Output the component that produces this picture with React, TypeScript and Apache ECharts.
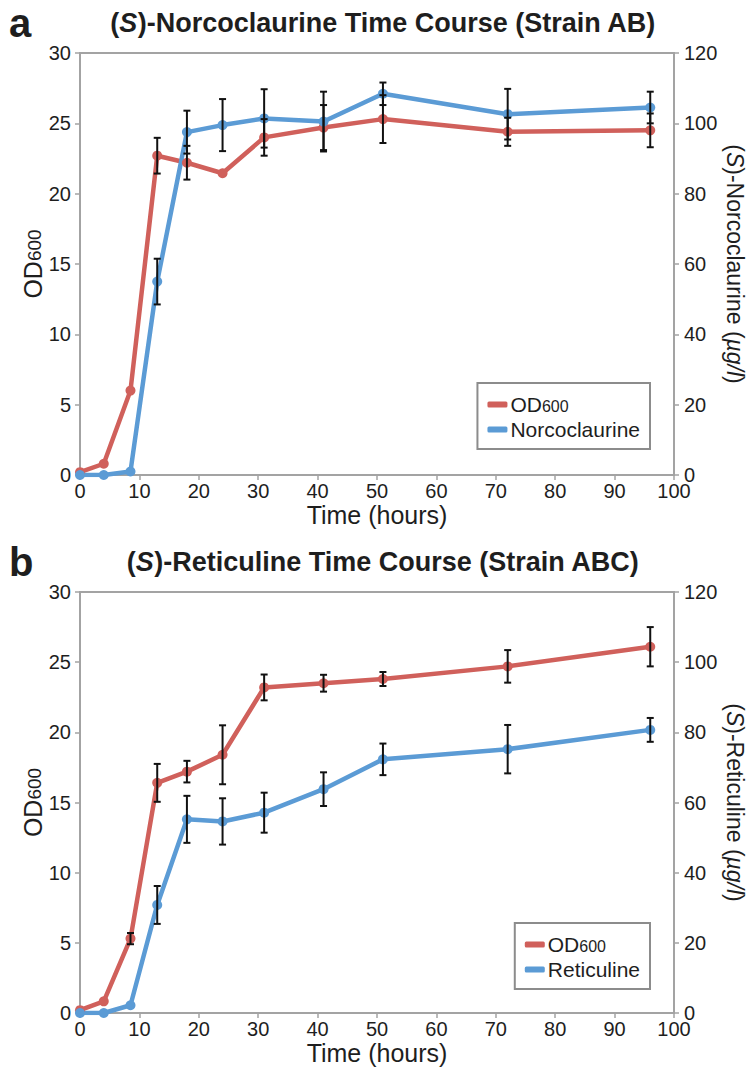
import React, { useEffect, useRef } from "react";
import * as echarts from "echarts";

const hours = [0, 4, 8.5, 13, 18, 24, 31, 41, 51, 72, 96];

const odA = [0.2, 0.8, 6.0, 22.7, 22.2, 21.45, 24.0, 24.7, 25.3, 24.4, 24.5];
const odAErr = [0, 0, 0, 1.27, 1.2, 0, 1.3, 1.6, 1.7, 1.0, 1.2];
const norco = [0, 0, 1, 55.0, 97.5, 99.5, 101.4, 100.5, 108.4, 102.6, 104.5];
const norcoErr = [0, 0, 0, 6.5, 6.1, 7.4, 8.3, 8.5, 3.2, 7.2, 4.5];

const odB = [0.2, 0.83, 5.3, 16.4, 17.2, 18.4, 23.2, 23.5, 23.8, 24.7, 26.1];
const odBErr = [0, 0, 0.4, 1.35, 0.77, 2.1, 0.92, 0.6, 0.5, 1.16, 1.4];
const retic = [0, 0, 2.2, 30.8, 55.2, 54.6, 57.1, 63.8, 72.3, 75.2, 80.7];
const reticErr = [0, 0, 0, 5.4, 6.7, 6.6, 5.7, 4.8, 4.5, 6.9, 3.4];

const RED = "#d0605b";
const BLUE = "#5b9bd5";
const AXIS = "#a3a3a3";
const TXT = "#1e1e1e";
const FONT = "'Liberation Sans', Arial, Helvetica, sans-serif";

function pairs(vals: number[]) {
  return hours.map((h, i) => [h, vals[i]]);
}
function errs(vals: number[], e: number[]) {
  return hours
    .map((h, i) => [h, vals[i] - e[i], vals[i] + e[i], e[i]])
    .filter((d) => d[3] > 0);
}

const renderErr = (params: any, api: any) => {
  const x = api.value(0);
  const lo = api.coord([x, api.value(1)]);
  const hi = api.coord([x, api.value(2)]);
  const cap = 3.5;
  const st = { stroke: "#111", lineWidth: 2 };
  return {
    type: "group",
    children: [
      { type: "line", shape: { x1: lo[0], y1: lo[1], x2: hi[0], y2: hi[1] }, style: st },
      { type: "line", shape: { x1: lo[0] - cap, y1: lo[1], x2: lo[0] + cap, y2: lo[1] }, style: st },
      { type: "line", shape: { x1: hi[0] - cap, y1: hi[1], x2: hi[0] + cap, y2: hi[1] }, style: st },
    ],
  };
};

export default function App() {
  const ref = useRef<HTMLDivElement>(null);
  useEffect(() => {
    const chart = echarts.init(ref.current!, null, { renderer: "svg" });
    const tickLabel = { color: TXT, fontSize: 20, fontFamily: FONT };
    const axisLine = { show: true, lineStyle: { color: AXIS, width: 2 } };
    const axisTick = { show: true, inside: false, length: 5, lineStyle: { color: AXIS, width: 1.5 } };
    const nameStyle = {
      color: TXT,
      fontSize: 23,
      fontFamily: FONT,
      rich: {
        s: { fontSize: 19, fontFamily: FONT, color: TXT, padding: [3, 0, 0, 0] },
        i: { fontStyle: "italic", fontSize: 23, fontFamily: FONT, color: TXT },
        n: { fontSize: 23, fontFamily: FONT, color: TXT },
        o: { fontSize: 25, fontFamily: FONT, color: TXT },
      },
    };
    const xAxisBase = (gi: number) => ({
      type: "value",
      gridIndex: gi,
      min: 0,
      max: 100,
      interval: 10,
      splitLine: { show: false },
      axisLine,
      axisTick,
      axisLabel: { ...tickLabel, margin: 6 },
      name: "Time (hours)",
      nameLocation: "middle",
      nameGap: 27,
      nameMoveOverlap: false,
      nameTextStyle: { color: TXT, fontSize: 25, fontFamily: FONT },
    });
    const leftAxis = (gi: number) => ({
      type: "value",
      gridIndex: gi,
      position: "left",
      min: 0,
      max: 30,
      interval: 5,
      splitLine: { show: false },
      axisLine,
      axisTick,
      axisLabel: { ...tickLabel, margin: 9 },
      name: "{o|OD}{s|600}",
      nameLocation: "middle",
      nameGap: 35,
      nameMoveOverlap: false,
      nameRotate: 90,
      nameTextStyle: nameStyle,
    });
    const rightAxis = (gi: number, label: string) => ({
      type: "value",
      gridIndex: gi,
      position: "right",
      min: 0,
      max: 120,
      interval: 20,
      splitLine: { show: false },
      axisLine,
      axisTick,
      axisLabel: { ...tickLabel, margin: 10 },
      name: "{n|(}{i|S}{n|)-" + label + " (}{i|µg/l}{n|)}",
      nameLocation: "middle",
      nameGap: 49,
      nameMoveOverlap: false,
      nameRotate: -90,
      nameTextStyle: nameStyle,
    });
    const lineSeries = (name: string, data: number[], color: string, xi: number, yi: number) => ({
      type: "line",
      name,
      xAxisIndex: xi,
      yAxisIndex: yi,
      data: pairs(data),
      symbol: "circle",
      symbolSize: 10,
      lineStyle: { color, width: 4.5 },
      itemStyle: { color },
      z: 3,
    });
    const errSeries = (vals: number[], e: number[], xi: number, yi: number) => ({
      type: "custom",
      xAxisIndex: xi,
      yAxisIndex: yi,
      data: errs(vals, e),
      encode: { x: 0, y: [1, 2] },
      renderItem: renderErr,
      z: 5,
      silent: true,
    });
    const legendBase = (data: string[], top: number) => ({
      data,
      orient: "vertical",
      right: 98,
      top,
      borderColor: "#8c8c8c",
      borderWidth: 2,
      backgroundColor: "#fff",
      padding: [11, 10, 9, 10],
      itemGap: 4,
      itemWidth: 20,
      itemHeight: 6,
      icon: "roundRect",
      textStyle: {
        color: TXT,
        fontSize: 21,
        fontFamily: FONT,
        padding: [0, 0, 0, -2],
        rich: {
          n: { fontSize: 21, fontFamily: FONT, color: TXT },
          s: { fontSize: 16, fontFamily: FONT, color: TXT, padding: [3, 0, 0, 0] },
        },
      },
      formatter: (name: string) => (name === "OD600" ? "{n|OD}{s|600}" : "{n|" + name + "}"),
    });
    const titleBase = (text: string, top: number) => ({
      text,
      left: 383,
      textAlign: "center",
      top,
      padding: 0,
      textStyle: {
        color: TXT,
        fontSize: 27,
        fontWeight: "bold",
        fontFamily: FONT,
        rich: {
          b: { fontSize: 27, fontWeight: "bold", fontFamily: FONT, color: TXT },
          i: { fontSize: 27, fontWeight: "bold", fontStyle: "italic", fontFamily: FONT, color: TXT },
        },
      },
    });
    const gridBase = (top: number, height: number) => ({
      left: 80,
      top,
      width: 594,
      height,
      show: true,
      borderColor: AXIS,
      borderWidth: 2,
      backgroundColor: "transparent",
      containLabel: false,
      outerBoundsMode: "none",
    });
    chart.setOption({
      animation: false,
      title: [
        titleBase("{b|(}{i|S}{b|)-Norcoclaurine Time Course (Strain AB)}", 9),
        titleBase("{b|(}{i|S}{b|)-Reticuline Time Course (Strain ABC)}", 548),
        { text: "a", left: 9, top: 3, padding: 0, textStyle: { fontSize: 40, fontWeight: "bold", color: TXT, fontFamily: FONT } },
        { text: "b", left: 9, top: 542, padding: 0, textStyle: { fontSize: 40, fontWeight: "bold", color: TXT, fontFamily: FONT } },
      ],
      grid: [gridBase(53, 422), gridBase(592, 421)],
      xAxis: [xAxisBase(0), xAxisBase(1)],
      yAxis: [leftAxis(0), rightAxis(0, "Norcoclaurine"), leftAxis(1), rightAxis(1, "Reticuline")],
      legend: [legendBase(["OD600", "Norcoclaurine"], 383), legendBase(["OD600", "Reticuline"], 923)],
      series: [
        lineSeries("OD600", odA, RED, 0, 0),
        lineSeries("Norcoclaurine", norco, BLUE, 0, 1),
        errSeries(odA, odAErr, 0, 0),
        errSeries(norco, norcoErr, 0, 1),
        lineSeries("OD600", odB, RED, 1, 2),
        lineSeries("Reticuline", retic, BLUE, 1, 3),
        errSeries(odB, odBErr, 1, 2),
        errSeries(retic, reticErr, 1, 3),
      ],
    });
    return () => chart.dispose();
  }, []);
  return <div ref={ref} style={{ width: 748, height: 1071, position: "absolute", left: 0, top: 0, background: "#fff" }} />;
}
